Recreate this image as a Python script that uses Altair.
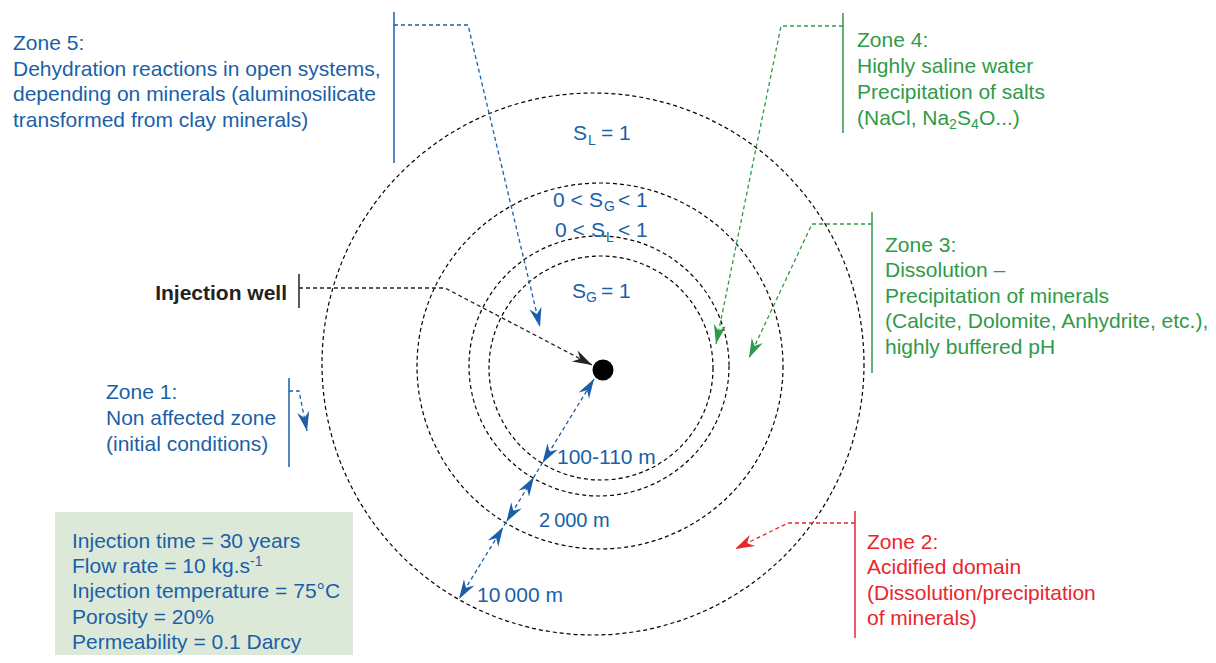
import altair as alt
import numpy as np
import pandas as pd

FONT = "Liberation Sans"
BLUE = "#1b5fa8"
GREEN = "#2f9a48"
RED = "#e8262d"
BLACK = "#222222"
BOX = "#dce9d8"

# ---- zone boundaries (dashed circles), figure pixel space ----
circle_cx = [593, 600, 599, 601]
circle_cy = [364, 366, 366, 368]
circle_r = [271, 183, 130, 112]

# ---- injection well ----
well_x = [603]
well_y = [370]
well_r = [10.5]

# ---- text blocks ----
zone5_lines = ["Zone 5:", "Dehydration reactions in open systems,",
               "depending on minerals (aluminosilicate", "transformed from clay minerals)"]
zone5_x, zone5_y = 13, [50, 76, 101, 127]

zone4_lines = ["Zone 4:", "Highly saline water", "Precipitation of salts"]
zone4_x, zone4_y = 857, [47, 73, 99]

zone3_lines = ["Zone 3:", "Dissolution \u2013", "Precipitation of minerals",
               "(Calcite, Dolomite, Anhydrite, etc.),", "highly buffered pH"]
zone3_x, zone3_y = 885, [252, 277, 303, 328, 354]

zone2_lines = ["Zone 2:", "Acidified domain", "(Dissolution/precipitation", "of minerals)"]
zone2_x, zone2_y = 867, [549, 574, 600, 625]

zone1_lines = ["Zone 1:", "Non affected zone", "(initial conditions)"]
zone1_x, zone1_y = 106, [399, 425, 451]

box_lines = ["Injection time = 30 years", "Flow rate = 10 kg.s", "Injection temperature = 75\u00b0C",
             "Porosity = 20%", "Permeability = 0.1 Darcy"]
box_x, box_y = 72, [548, 573, 598, 624, 649]
box_extent = [55, 353, 512, 663]

dist_labels = ["100-110 m", "2\u2009000 m", "10\u2009000 m"]
dist_x = [557, 539, 477]
dist_y = [464, 527, 602]

# pieces with subscripts / superscripts: text, x, baseline, font size, colour
piece_text = ["S", "L", "= 1",
              "0 < ", "S", "G", "< 1",
              "0 < ", "S", "L", "< 1",
              "S", "G", "= 1",
              "(NaCl, Na", "2", "S", "4", "O...)",
              "-1"]
piece_x = [573, 588, 601,
           553, 589, 604, 618,
           555, 591, 606, 618,
           572, 586, 601,
           857, 949, 957, 971, 979,
           250]
piece_y = [140, 145, 140,
           207, 207, 211, 207,
           237, 237, 242, 237,
           298, 302, 298,
           125, 129, 125, 129, 125,
           566]
piece_size = [21, 14, 21,
              21, 21, 14, 21,
              21, 21, 14, 21,
              21, 14, 21,
              21, 14, 21, 14, 21,
              14]
piece_color = [BLUE] * 14 + [GREEN] * 5 + [BLUE]

# ---- leader lines (polyline points, last point is arrow tip) ----
leader_names = ["zone5", "zone4", "zone3", "zone2", "well", "zone1"]
leader_colors = [BLUE, GREEN, GREEN, RED, BLACK, BLUE]
leader_xs = [[394, 468, 540], [843, 781, 716], [872, 812, 749],
             [855, 788, 735], [299, 445, 592], [289, 299, 307]]
leader_ys = [[25, 25, 327], [26, 26, 344], [224, 224, 358],
             [523, 523, 549], [288, 288, 365], [391, 391, 431]]

# ---- vertical bars beside labels ----
bar_x = [394, 289, 299, 843, 872, 855]
bar_y1 = [12, 378, 274, 13, 212, 511]
bar_y2 = [163, 467, 308, 133, 373, 638]
bar_color = [BLUE, BLUE, BLACK, GREEN, GREEN, RED]

# ---- radius arrow (distances) ----
radius_x = [594, 459]
radius_y = [379, 599]
radius_tip_x = [594, 542.5, 534, 506.3, 503.2, 459]
radius_tip_y = [379, 463, 477, 522, 527, 599]
radius_tip_dir = [1, -1, 1, -1, 1, -1]   # +1 points toward well, -1 outward

# ================= build tables =================
circles = pd.DataFrame({"x": circle_cx, "y": circle_cy,
                        "size": [(2 * r) ** 2 for r in circle_r]})
dot = pd.DataFrame({"x": well_x, "y": well_y, "size": [(2 * r) ** 2 for r in well_r]})


def block(lines, x, ys, color, size=21):
    return pd.DataFrame({"text": lines, "x": [x] * len(lines), "y": ys,
                         "color": [color] * len(lines), "size": [size] * len(lines)})


texts = pd.concat([
    block(zone5_lines, zone5_x, zone5_y, BLUE),
    block(zone4_lines, zone4_x, zone4_y, GREEN),
    block(zone3_lines, zone3_x, zone3_y, GREEN),
    block(zone2_lines, zone2_x, zone2_y, RED),
    block(zone1_lines, zone1_x, zone1_y, BLUE),
    block(box_lines, box_x, box_y, BLUE),
    pd.DataFrame({"text": dist_labels, "x": dist_x, "y": dist_y,
                  "color": [BLUE] * 3, "size": [21, 20, 21]}),
    pd.DataFrame({"text": piece_text, "x": piece_x, "y": piece_y,
                  "color": piece_color, "size": piece_size}),
], ignore_index=True)

rows = []
heads = []
for name, col, xs, ys in zip(leader_names, leader_colors, leader_xs, leader_ys):
    for i, (px, py) in enumerate(zip(xs, ys)):
        rows.append({"g": name, "o": i, "x": px, "y": py, "color": col})
    dx, dy = xs[-1] - xs[-2], ys[-1] - ys[-2]
    heads.append({"x": xs[-1], "y": ys[-1], "color": col,
                  "angle": float(np.degrees(np.arctan2(dx, -dy)) % 360)})
for i, (px, py) in enumerate(zip(radius_x, radius_y)):
    rows.append({"g": "radius", "o": i, "x": px, "y": py, "color": BLUE})
rdx, rdy = radius_x[0] - radius_x[1], radius_y[0] - radius_y[1]
base_ang = float(np.degrees(np.arctan2(rdx, -rdy)))
for tx, ty, d in zip(radius_tip_x, radius_tip_y, radius_tip_dir):
    heads.append({"x": tx, "y": ty, "color": BLUE,
                  "angle": (base_ang if d > 0 else base_ang + 180) % 360})
leaders = pd.DataFrame(rows)
arrowheads = pd.DataFrame(heads)

bars = pd.DataFrame({"x": bar_x, "y": bar_y1, "y2": bar_y2, "color": bar_color})
box = pd.DataFrame({"x": [box_extent[0]], "x2": [box_extent[1]],
                    "y": [box_extent[2]], "y2": [box_extent[3]]})
well_label = pd.DataFrame({"text": ["Injection well"], "x": [287], "y": [300]})

# ================= chart =================
XS = alt.Scale(domain=[8, 1208], nice=False, zero=False)
YS = alt.Scale(domain=[8, 655], nice=False, zero=False, reverse=True)
X = alt.X("x:Q", scale=XS, axis=None)
Y = alt.Y("y:Q", scale=YS, axis=None)

box_layer = alt.Chart(box).mark_rect(color=BOX).encode(
    x=X, x2="x2:Q", y=Y, y2="y2:Q")

circle_layer = alt.Chart(circles).mark_point(
    shape="circle", filled=False, color="black", strokeWidth=1.2,
    strokeDash=[4, 3], opacity=1).encode(
    x=X, y=Y, size=alt.Size("size:Q", scale=None))

leader_layer = alt.Chart(leaders).mark_line(
    strokeDash=[4, 3], strokeWidth=1.3).encode(
    x=X, y=Y, detail="g:N", order="o:Q", color=alt.Color("color:N", scale=None))

head_layer = alt.Chart(arrowheads).mark_point(
    shape="M0,0 L0.6,1.9 L0,1.3 L-0.6,1.9 Z", filled=True, opacity=1,
    size=420).encode(
    x=X, y=Y, angle=alt.Angle("angle:Q", scale=None),
    color=alt.Color("color:N", scale=None))

dot_layer = alt.Chart(dot).mark_point(
    shape="circle", filled=True, color="black", opacity=1).encode(
    x=X, y=Y, size=alt.Size("size:Q", scale=None))

bar_layer = alt.Chart(bars).mark_rule(strokeWidth=1.5).encode(
    x=X, y=Y, y2="y2:Q", color=alt.Color("color:N", scale=None))

text_layer = alt.Chart(texts).mark_text(
    align="left", baseline="alphabetic", font=FONT).encode(
    x=X, y=Y, text="text:N", color=alt.Color("color:N", scale=None),
    size=alt.Size("size:Q", scale=None))

well_text_layer = alt.Chart(well_label).mark_text(
    align="right", baseline="alphabetic", font=FONT, fontSize=21,
    fontWeight="bold", color=BLACK).encode(x=X, y=Y, text="text:N")

chart = alt.layer(
    box_layer, circle_layer, leader_layer, head_layer, dot_layer,
    bar_layer, text_layer, well_text_layer
).properties(
    width=1200, height=647, padding=0, autosize="none", background="white"
).configure_view(stroke=None)

chart.save("out.html", embed_options={"renderer": "svg", "actions": False})
